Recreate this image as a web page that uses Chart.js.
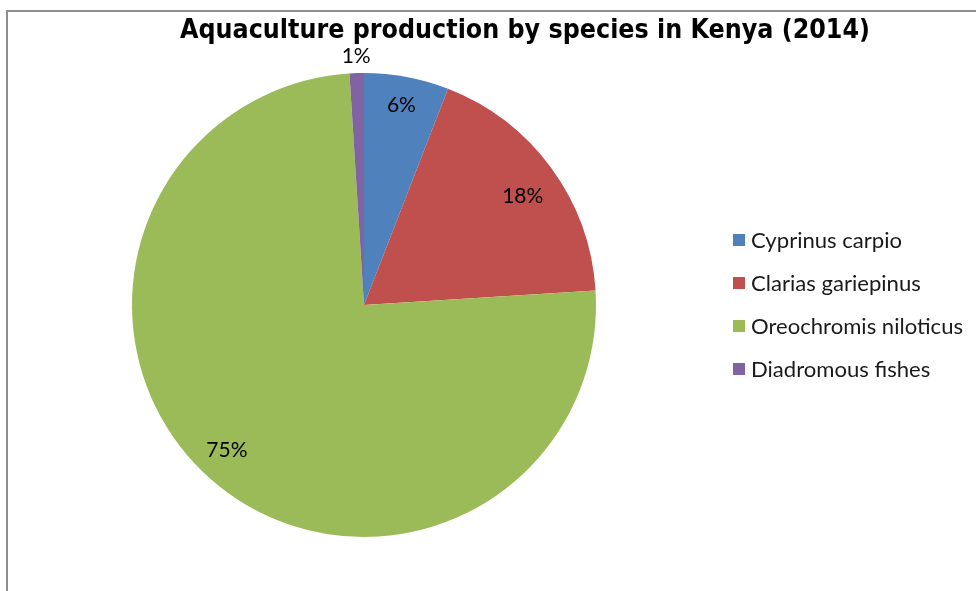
<!DOCTYPE html>
<html><head><meta charset="utf-8">
<script src="https://cdn.jsdelivr.net/npm/chart.js@4"></script>
<style>
html,body{margin:0;padding:0;background:#fff;overflow:hidden;}
#wrap{position:absolute;left:0;top:0;width:976px;height:591px;}
#frame{position:absolute;left:6px;top:10px;width:1000px;height:700px;border:2px solid #8e8e8e;box-sizing:border-box;}
canvas{position:absolute;left:0;top:0;}
</style></head>
<body>
<div id="wrap"><div id="frame"></div><canvas id="c" width="976" height="591"></canvas></div>
<script>
const titleText = "Aquaculture production by species in Kenya (2014)";
const categories = ["Cyprinus carpio", "Clarias gariepinus", "Oreochromis niloticus", "Diadromous fishes"];
const values = [5.9, 18.1, 75.0, 1.0];
const valueLabels = ["6%", "18%", "75%", "1%"];
const colors = ["#4F81BD", "#C0504D", "#9BBB59", "#8064A2"];

const overlay = {
  id: 'overlay',
  afterDraw(chart) {
    const ctx = chart.ctx;
    ctx.save();
    // title
    ctx.font = "bold 27px 'DejaVu Sans Condensed', 'DejaVu Sans', sans-serif";
    ctx.fillStyle = "#000";
    ctx.textBaseline = "middle";
    ctx.textAlign = "center";
    const tw = ctx.measureText(titleText).width;
    ctx.save();
    ctx.translate(525, 31);
    ctx.scale(690 / tw, 1);
    ctx.fillText(titleText, 0, 0);
    ctx.restore();
    // data labels
    const meta = chart.getDatasetMeta(0);
    const radial = [0.875, 0.83, 0.86];
    const angShift = [0, 0.03, 0.035];
    ctx.font = "21px Lato, 'Open Sans', sans-serif";
    ctx.fillStyle = "#000";
    meta.data.forEach((arc, i) => {
      const frac = (arc.endAngle - arc.startAngle) / (2 * Math.PI);
      const small = frac < 0.03;
      const mid = (arc.startAngle + arc.endAngle) / 2 + (small ? 0 : angShift[i]);
      const rr = small ? arc.outerRadius + 17 : arc.outerRadius * radial[i];
      ctx.fillText(valueLabels[i], arc.x + Math.cos(mid) * rr, arc.y + Math.sin(mid) * rr);
    });
    // legend
    ctx.textAlign = "left";
    ctx.font = "21px Lato, 'Open Sans', sans-serif";
    const lw = ctx.measureText(categories[2]).width;
    const sx = 212 / lw;
    categories.forEach((c, i) => {
      const y = 240 + i * 43;
      ctx.fillStyle = colors[i];
      ctx.fillRect(733, y - 6, 12, 12);
      ctx.fillStyle = "#1a1a1a";
      ctx.save();
      ctx.translate(751, y + 1);
      ctx.scale(sx, 1);
      ctx.fillText(c, 0, 0);
      ctx.restore();
    });
    ctx.restore();
  }
};

new Chart(document.getElementById('c'), {
  type: 'pie',
  data: {
    labels: categories,
    datasets: [{ data: values, backgroundColor: colors, borderWidth: 0 }]
  },
  options: {
    responsive: false,
    animation: false,
    layout: { padding: { left: 132, right: 380, top: 73, bottom: 54 } },
    plugins: { legend: { display: false }, title: { display: false }, tooltip: { enabled: false } }
  },
  plugins: [overlay]
});
</script>
</body></html>
